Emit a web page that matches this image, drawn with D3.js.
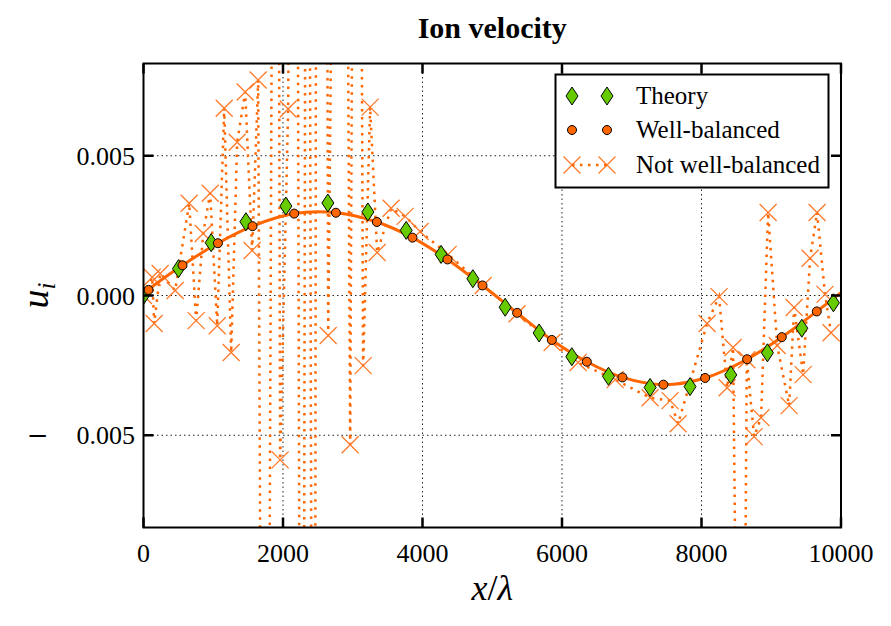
<!DOCTYPE html>
<html><head><meta charset="utf-8">
<script src="https://cdn.jsdelivr.net/npm/d3@7"></script>
<style>body{margin:0;background:#fff}svg{display:block}</style>
</head><body>
<svg id="chart" width="891" height="626"></svg>
<script>
// ---- data ----
const xTicks = [0, 2000, 4000, 6000, 8000, 10000];
const xTickLabels = ["0", "2000", "4000", "6000", "8000", "10000"];
const yTicks = [-0.005, 0, 0.005];
const yTickLabels = ["\u22120.005", "0.000", "0.005"];

const theoryX = [0, 502, 970, 1468, 2041, 2643, 3217, 3766, 4267, 4722, 5185, 5672, 6141, 6666, 7263, 7836, 8420, 8945, 9438, 9891];
const theoryY = [0.0000, 0.00096, 0.00189, 0.00264, 0.00320, 0.00331, 0.00299, 0.00233, 0.00147, 0.00060, -0.00042, -0.00134, -0.00219, -0.00289, -0.00329, -0.00326, -0.00284, -0.00205, -0.00117, -0.00026];

const wbX = [72, 559, 1067, 1563, 2160, 2758, 3346, 3856, 4358, 4860, 5357, 5854, 6356, 6867, 7454, 8052, 8654, 9151, 9653];
const wbY = [0.00020, 0.00108, 0.00187, 0.00248, 0.00293, 0.00296, 0.00263, 0.00207, 0.00129, 0.00036, -0.00062, -0.00159, -0.00237, -0.00293, -0.00319, -0.00295, -0.00228, -0.00149, -0.00057];
const wbCurveStartX = 0, wbCurveStartY = 0.0000;
const wbCurveEndX = 10000, wbCurveEndY = 0.0001;

const nwbX = [0, 125, 153, 239, 454, 655, 755, 856, 956, 1057, 1157, 1257, 1343, 1458, 1558, 1644, 1744, 1902, 1959, 2074, 2174, 2274, 2346, 2446, 2489, 2604, 2648, 2848, 2963, 3063, 3149, 3249, 3350, 3550, 3751, 3966, 4368, 4869, 5356, 5858, 6231, 6762, 7263, 7550, 7665, 8080, 8252, 8367, 8453, 8570, 8650, 8754, 8854, 8955, 9085, 9257, 9328, 9457, 9557, 9657, 9771, 9857];
const nwbY = [0, 0.00065, -0.00100, 0.00079, 0.00018, 0.00330, -0.00090, 0.00222, 0.00366, -0.00108, 0.00670, -0.00204, 0.00548, 0.00728, 0.00161, 0.00771, -0.05, 0.05, -0.00588, 0.00667, 0.05, -0.05, 0.05, -0.05, 0.05, 0.04, -0.00143, 0.05, -0.00534, 0.05, -0.00251, 0.00674, 0.00154, 0.00312, 0.00283, 0.00229, 0.00147, 0.00036, -0.00065, -0.00168, -0.00240, -0.00301, -0.00366, -0.00376, -0.00459, -0.00100, -0.00004, -0.00330, -0.00186, -0.03, -0.00230, -0.00505, -0.00437, 0.00297, -0.00179, -0.00394, -0.00043, -0.00283, 0.00133, 0.00297, 0.00004, -0.00133];

const legendLabels = ["Theory", "Well-balanced", "Not well-balanced"];

// ---- layout ----
const W = 891, H = 626;
const L = 143.5, R = 841, T = 63.5, B = 527.5;
const ORANGE = "#ff6600", XCOL = "#ff7a2a", GREEN = "#66cc00";
const SERIF = "'Liberation Serif','Times New Roman',Times,serif";

const svg = d3.select("#chart");
const x = d3.scaleLinear().domain([0, 10000]).range([L, R]);
const y = d3.scaleLinear().domain([-0.0083, 0.0083]).range([B, T]);

svg.append("defs").append("clipPath").attr("id", "clip")
  .append("rect").attr("x", L).attr("y", T).attr("width", R - L).attr("height", B - T);

// grid
const grid = svg.append("g");
grid.selectAll("line.gx").data(xTicks.slice(1, -1)).join("line")
  .attr("x1", d => x(d)).attr("x2", d => x(d)).attr("y1", T).attr("y2", B)
  .attr("stroke", "#222").attr("stroke-width", 1).attr("stroke-dasharray", "1.5,3");
grid.selectAll("line.gy").data(yTicks).join("line")
  .attr("y1", d => y(d)).attr("y2", d => y(d)).attr("x1", L).attr("x2", R)
  .attr("stroke", "#222").attr("stroke-width", 1).attr("stroke-dasharray", "1.5,3");

const plot = svg.append("g").attr("clip-path", "url(#clip)");

// not well-balanced
const nwb = nwbX.map((d, i) => [d, nwbY[i]]);
plot.append("path").datum(nwb)
  .attr("d", d3.line().x(d => x(d[0])).y(d => y(d[1])))
  .attr("fill", "none").attr("stroke", ORANGE).attr("stroke-width", 2.5)
  .attr("stroke-dasharray", "2.5,5.5");
const xm = "M-8.5,-8.5L8.5,8.5M-8.5,8.5L8.5,-8.5";
plot.selectAll("path.xm").data(nwb.filter(d => Math.abs(d[1]) < 0.0083)).join("path")
  .attr("d", xm).attr("transform", d => `translate(${x(d[0])},${y(d[1])})`)
  .attr("fill", "none").attr("stroke", XCOL).attr("stroke-width", 1.3);

// well-balanced curve
const wb = wbX.map((d, i) => [d, wbY[i]]);
const curve = [[wbCurveStartX, wbCurveStartY], ...wb, [wbCurveEndX, wbCurveEndY]];
plot.append("path").datum(curve)
  .attr("d", d3.line().x(d => x(d[0])).y(d => y(d[1])).curve(d3.curveCatmullRom))
  .attr("fill", "none").attr("stroke", ORANGE).attr("stroke-width", 3);

// theory diamonds
const dm = "M0,-9L6,0L0,9L-6,0Z";
const th = theoryX.map((d, i) => [d, theoryY[i]]);
plot.selectAll("path.dm").data(th).join("path")
  .attr("d", dm).attr("transform", d => `translate(${x(d[0])},${y(d[1])})`)
  .attr("fill", GREEN).attr("stroke", "#000").attr("stroke-width", 1);

// wb circles
plot.selectAll("circle").data(wb).join("circle")
  .attr("cx", d => x(d[0])).attr("cy", d => y(d[1])).attr("r", 4.5)
  .attr("fill", ORANGE).attr("stroke", "#000").attr("stroke-width", 1);

// frame
svg.append("rect").attr("x", L).attr("y", T).attr("width", R - L).attr("height", B - T)
  .attr("fill", "none").attr("stroke", "#000").attr("stroke-width", 2);

// ticks
const tk = svg.append("g").attr("stroke", "#000").attr("stroke-width", 2.5);
xTicks.forEach(t => {
  tk.append("line").attr("x1", x(t)).attr("x2", x(t)).attr("y1", B).attr("y2", B - 10);
  tk.append("line").attr("x1", x(t)).attr("x2", x(t)).attr("y1", T).attr("y2", T + 10);
});
yTicks.forEach(t => {
  tk.append("line").attr("y1", y(t)).attr("y2", y(t)).attr("x1", L).attr("x2", L + 10);
  tk.append("line").attr("y1", y(t)).attr("y2", y(t)).attr("x1", R).attr("x2", R - 10);
});

// tick labels
svg.selectAll("text.xt").data(xTicks).join("text")
  .attr("x", d => x(d)).attr("y", 562).attr("text-anchor", "middle")
  .attr("font-family", SERIF).attr("font-size", 26).text((d, i) => xTickLabels[i]);
const yt = svg.selectAll("text.yt").data(yTicks).join("text")
  .attr("x", 135).attr("y", d => y(d) + 9).attr("text-anchor", "end")
  .attr("font-family", SERIF).attr("font-size", 26);
yt.each(function(d, i) {
  const s = yTickLabels[i], t = d3.select(this);
  if (s.startsWith("\u2212")) {
    t.append("tspan").attr("font-family", "'DejaVu Serif',serif").text("\u2212");
    t.append("tspan").attr("dx", 28).text(s.slice(1));
  } else t.text(s);
});

// title
svg.append("text").attr("x", (L + R) / 2).attr("y", 38).attr("text-anchor", "middle")
  .attr("font-family", SERIF).attr("font-weight", "bold").attr("font-size", 30).text("Ion velocity");

// axis labels
const xl = svg.append("text").attr("x", (L + R) / 2).attr("y", 600).attr("text-anchor", "middle")
  .attr("font-family", SERIF).attr("font-size", 36);
xl.append("tspan").attr("font-style", "italic").text("x");
xl.append("tspan").text("/");
xl.append("tspan").attr("font-style", "italic").text("λ");

const yl = svg.append("text").attr("transform", `translate(48,${(T + B) / 2}) rotate(-90)`)
  .attr("text-anchor", "middle").attr("font-family", SERIF).attr("font-size", 38);
yl.append("tspan").attr("font-style", "italic").text("u");
yl.append("tspan").attr("font-style", "italic").attr("font-size", 25).attr("dy", 7).text("i");

// legend
const lg = svg.append("g");
lg.append("rect").attr("x", 555.5).attr("y", 74.5).attr("width", 273).attr("height", 113)
  .attr("fill", "#fff").attr("stroke", "#000").attr("stroke-width", 2);
const rowY = [96, 130, 165];
const mx = [572, 607];
mx.forEach(px => {
  lg.append("path").attr("d", dm).attr("transform", `translate(${px},${rowY[0]})`)
    .attr("fill", GREEN).attr("stroke", "#000").attr("stroke-width", 1);
  lg.append("circle").attr("cx", px).attr("cy", rowY[1]).attr("r", 4.5)
    .attr("fill", ORANGE).attr("stroke", "#000").attr("stroke-width", 1);
  lg.append("path").attr("d", xm).attr("transform", `translate(${px},${rowY[2]})`)
    .attr("fill", "none").attr("stroke", XCOL).attr("stroke-width", 1.3);
});
lg.append("line").attr("x1", mx[0]).attr("x2", mx[1]).attr("y1", rowY[2]).attr("y2", rowY[2])
  .attr("stroke", ORANGE).attr("stroke-width", 2.5).attr("stroke-dasharray", "2.5,5.5");
lg.selectAll("text").data(legendLabels).join("text")
  .attr("x", 636).attr("y", (d, i) => rowY[i] + 8)
  .attr("font-family", SERIF).attr("font-size", 25).text(d => d);
</script>
</body></html>
